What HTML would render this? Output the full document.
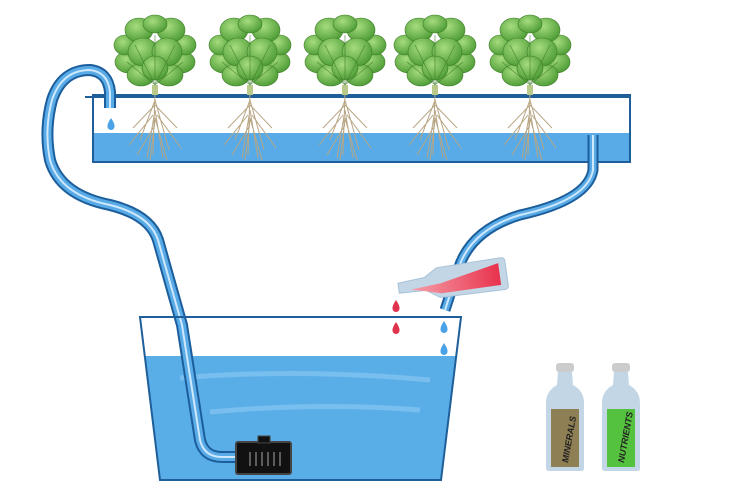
<!DOCTYPE html>
<html><head><style>html,body{margin:0;padding:0;background:#fff}svg{display:block}</style></head>
<body>
<svg width="750" height="500" viewBox="0 0 750 500" xmlns="http://www.w3.org/2000/svg">
<defs>
<radialGradient id="lf" cx="40%" cy="35%" r="70%"><stop offset="0" stop-color="#a6dc7e"/><stop offset="1" stop-color="#4a9a33"/></radialGradient>
<linearGradient id="red" x1="0" y1="0" x2="1" y2="0"><stop offset="0" stop-color="#f6a0aa"/><stop offset="1" stop-color="#e8334d"/></linearGradient>
<g id="drop"><path d="M0,-6 Q4,0 3.5,2.5 A3.5,3.5 0 0 1 -3.5,2.5 Q-4,0 0,-6Z"/></g>
</defs>
<!-- tank water -->
<path d="M145,356 L457,356 L441,480 L160,480 Z" fill="#5aaee8"/>
<path d="M180,378 Q300,368 430,380" stroke="#8cc8f2" stroke-width="5" fill="none" opacity=".6"/>
<path d="M210,412 Q320,402 420,410" stroke="#8cc8f2" stroke-width="5" fill="none" opacity=".6"/>
<!-- trough -->
<rect x="93" y="133" width="537" height="29" fill="#58abe6"/>
<line x1="85" y1="97" x2="630" y2="97" stroke="#1f5f99" stroke-width="2"/>
<rect x="93" y="95" width="537" height="67" fill="none" stroke="#1f5f99" stroke-width="2"/>
<!-- plants -->
<g id="plants">
<g transform="translate(155,0)">
 <g stroke="#b8a684" stroke-width="1" fill="none"><path d="M0,92 L-2,155 M0,100 L-15,140 M0,100 L14,150 M0,105 L-22,128 M0,105 L22,128 M0,110 L-8,158 M0,110 L8,158 M-2,115 L-26,145 M2,115 L26,148 M0,120 L-5,160 M0,118 L12,160 M0,125 L-18,155"/></g>
 <rect x="-3" y="85" width="6" height="10" fill="#b9c98a"/>
 <g fill="url(#lf)" stroke="#3f7f2a" stroke-width="0.6">
 <ellipse cx="-26" cy="62" rx="14" ry="11"/><ellipse cx="26" cy="62" rx="14" ry="11"/>
 <ellipse cx="-30" cy="45" rx="11" ry="10"/><ellipse cx="30" cy="45" rx="11" ry="10"/>
 <ellipse cx="-14" cy="75" rx="14" ry="11"/><ellipse cx="14" cy="75" rx="14" ry="11"/>
 <ellipse cx="-16" cy="30" rx="14" ry="12"/><ellipse cx="16" cy="30" rx="14" ry="12"/>
 <ellipse cx="0" cy="24" rx="12" ry="9"/>
 <ellipse cx="-12" cy="52" rx="15" ry="14"/><ellipse cx="12" cy="52" rx="15" ry="14"/>
 <ellipse cx="0" cy="68" rx="13" ry="12"/>
 </g>
 <g stroke="#3d7a2a" stroke-width="0.8" fill="none" opacity=".7"><path d="M0,85 L-20,45 M0,85 L20,45 M0,85 L0,35 M0,85 L-28,62 M0,85 L28,62"/></g>
</g>
</g>
<use href="#plants" x="95"/><use href="#plants" x="190"/><use href="#plants" x="280"/><use href="#plants" x="375"/>
<use href="#drop" x="111" y="124" fill="#4aa3e8"/>
<!-- left pipe -->
<g fill="none" stroke-linejoin="round">
<path d="M110,108 L110,92 Q108,72 90,70 Q62,70 52,100 Q44,130 50,160 Q60,195 110,205 Q150,215 158,240 L182,325 L200,440 Q204,457 222,457 L238,457" stroke="#1c5e9c" stroke-width="12"/>
<path d="M110,108 L110,92 Q108,72 90,70 Q62,70 52,100 Q44,130 50,160 Q60,195 110,205 Q150,215 158,240 L182,325 L200,440 Q204,457 222,457 L238,457" stroke="#58abe6" stroke-width="8"/>
<path d="M110,108 L110,92 Q108,72 90,70 Q62,70 52,100 Q44,130 50,160 Q60,195 110,205 Q150,215 158,240 L182,325 L200,440 Q204,457 222,457 L238,457" stroke="#cfe8fb" stroke-width="2"/>
<path d="M593,135 L593,170 Q588,200 520,215 Q470,230 458,270 L445,310" stroke="#1c5e9c" stroke-width="11"/>
<path d="M593,135 L593,170 Q588,200 520,215 Q470,230 458,270 L445,310" stroke="#58abe6" stroke-width="7"/>
<path d="M593,135 L593,170 Q588,200 520,215 Q470,230 458,270 L445,310" stroke="#cfe8fb" stroke-width="2"/>
</g>
<path d="M140,317 L461,317 L441,480 L160,480 Z" fill="none" stroke="#1f5f99" stroke-width="2"/>
<!-- pump -->
<rect x="236" y="442" width="55" height="32" rx="2" fill="#111" stroke="#444" stroke-width="2"/>
<rect x="258" y="436" width="12" height="7" fill="#111" stroke="#444" stroke-width="1"/>
<g stroke="#777" stroke-width="1.5"><path d="M250,452v14M256,452v14M262,452v14M268,452v14M274,452v14M280,452v14"/></g>
<!-- drops -->
<use href="#drop" x="396" y="306" fill="#e0344e"/>
<use href="#drop" x="396" y="328" fill="#e0344e"/>
<use href="#drop" x="444" y="327" fill="#4aa3e8"/>
<use href="#drop" x="444" y="349" fill="#4aa3e8"/>
<!-- pouring bottle -->
<g transform="rotate(-8 450 280)">
<path d="M398,276 L425,274 L438,266 L503,265 Q507,265 507,269 L507,293 Q507,297 503,297 L438,296 L425,287 L398,286 Z" fill="#c2d6e6" stroke="#a9c2d8" stroke-width="1"/>
<path d="M410,284 L440,282 L500,270 L500,292 L440,292 Z" fill="url(#red)"/>
</g>
<!-- bottles -->
<g transform="translate(546,363)">
<rect x="10" y="0" width="18" height="9" rx="3" fill="#ccc"/>
<path d="M12,9 L26,9 L27,22 Q38,28 38,40 L38,105 Q38,108 35,108 L3,108 Q0,108 0,105 L0,40 Q0,28 11,22 Z" fill="#c3d6e6"/>
<rect x="5" y="46" width="28" height="58" fill="#8e7f54"/>
<text x="0" y="0" transform="translate(22,100) rotate(-80)" font-family="Liberation Sans, sans-serif" font-size="9" font-style="italic" font-weight="bold" fill="#222">MINERALS</text>
</g>
<g transform="translate(602,363)">
<rect x="10" y="0" width="18" height="9" rx="3" fill="#ccc"/>
<path d="M12,9 L26,9 L27,22 Q38,28 38,40 L38,105 Q38,108 35,108 L3,108 Q0,108 0,105 L0,40 Q0,28 11,22 Z" fill="#c3d6e6"/>
<rect x="5" y="46" width="28" height="58" fill="#55c23f"/>
<text x="0" y="0" transform="translate(22,100) rotate(-80)" font-family="Liberation Sans, sans-serif" font-size="9" font-style="italic" font-weight="bold" fill="#222">NUTRIENTS</text>
</g>
</svg>
</body></html>
